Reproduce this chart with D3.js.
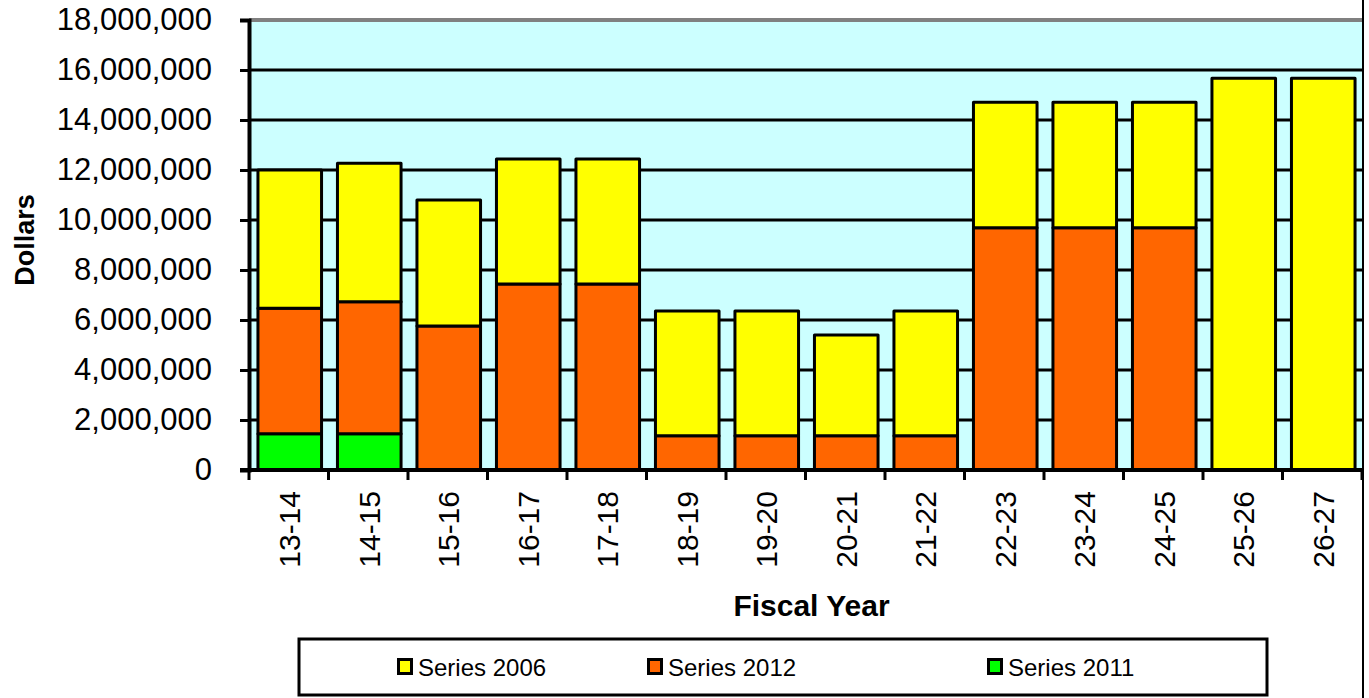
<!DOCTYPE html>
<html>
<head>
<meta charset="utf-8">
<script src="https://cdn.jsdelivr.net/npm/d3@7"></script>
<style>
  body { margin: 0; background: #fff; }
  svg { display: block; font-family: Arial, "Liberation Sans", sans-serif; }
</style>
</head>
<body>
<svg width="1369" height="698"></svg>
<script>
var years = ["13-14", "14-15", "15-16", "16-17", "17-18", "18-19", "19-20",
             "20-21", "21-22", "22-23", "23-24", "24-25", "25-26", "26-27"];
// stacked bottom to top: 2011, 2012, 2006
var series2011 = [1450000, 1450000, 0, 0, 0, 0, 0, 0, 0, 0, 0, 0, 0, 0];
var series2012 = [5020000, 5280000, 5760000, 7440000, 7440000, 1370000, 1370000,
                  1370000, 1370000, 9690000, 9690000, 9690000, 0, 0];
var series2006 = [5530000, 5540000, 5040000, 5000000, 5000000, 4990000, 4990000,
                  4030000, 4990000, 5020000, 5020000, 5020000, 15670000, 15670000];
var yTicks = [0, 2000000, 4000000, 6000000, 8000000, 10000000, 12000000,
              14000000, 16000000, 18000000];

var seriesNames = ["Series 2011", "Series 2012", "Series 2006"];
var colors = {"Series 2011": "#00ff00", "Series 2012": "#ff6600", "Series 2006": "#ffff00"};

var rows = years.map(function(y, i) {
  return {year: y, "Series 2011": series2011[i], "Series 2012": series2012[i], "Series 2006": series2006[i]};
});

var svg = d3.select("svg");
var plotLeft = 249, plotRight = 1362, plotTop = 20, plotBottom = 470;

var x = d3.scaleBand().domain(years).range([plotLeft, plotRight]).paddingInner(0.2).paddingOuter(0.1);
var y = d3.scaleLinear().domain([0, 18000000]).range([plotBottom, plotTop]);

// plot background
svg.append("rect")
  .attr("x", plotLeft).attr("y", plotTop)
  .attr("width", plotRight - plotLeft).attr("height", plotBottom - plotTop)
  .attr("fill", "#ccffff");

// gridlines
svg.append("g")
  .selectAll("line")
  .data(yTicks.filter(function(d) { return d > 0 && d < 18000000; }))
  .enter().append("line")
  .attr("x1", plotLeft).attr("x2", plotRight)
  .attr("y1", function(d) { return y(d); })
  .attr("y2", function(d) { return y(d); })
  .attr("stroke", "#000").attr("stroke-width", 3);

// top border
svg.append("line")
  .attr("x1", plotLeft).attr("x2", plotRight)
  .attr("y1", y(18000000)).attr("y2", y(18000000))
  .attr("stroke", "#808080").attr("stroke-width", 4);

// bars
var stack = d3.stack().keys(seriesNames);
var layers = stack(rows);

svg.append("g")
  .selectAll("g")
  .data(layers)
  .enter().append("g")
  .attr("fill", function(d) { return colors[d.key]; })
  .selectAll("rect")
  .data(function(d) { return d.filter(function(p) { return p[1] - p[0] > 0; }); })
  .enter().append("rect")
  .attr("x", function(d) { return x(d.data.year) + 1; })
  .attr("width", x.bandwidth())
  .attr("y", function(d) { return y(d[1]); })
  .attr("height", function(d) { return y(d[0]) - y(d[1]); })
  .attr("stroke", "#000")
  .attr("stroke-width", 3)
  .attr("stroke-linejoin", "round");

// y axis
var yAxis = d3.axisLeft(y)
  .tickValues(yTicks)
  .tickSize(9)
  .tickPadding(28)
  .tickFormat(d3.format(",.0f"));

var gy = svg.append("g")
  .attr("transform", "translate(" + plotLeft + ",0)")
  .call(yAxis);
gy.select(".domain").attr("stroke", "#000").attr("stroke-width", 4);
gy.selectAll(".tick line").attr("stroke", "#000").attr("stroke-width", 3);
gy.selectAll(".tick text")
  .attr("font-size", 31)
  .attr("font-family", "Arial, 'Liberation Sans', sans-serif")
  .attr("fill", "#000");

// x axis line and boundary ticks
svg.append("line")
  .attr("x1", plotLeft - 9).attr("x2", plotRight)
  .attr("y1", plotBottom).attr("y2", plotBottom)
  .attr("stroke", "#000").attr("stroke-width", 4);

var step = x.step();
var boundaries = d3.range(years.length + 1).map(function(i) {
  return x(years[0]) - x.paddingOuter() * step + i * step;
});
svg.append("g")
  .selectAll("line")
  .data(boundaries)
  .enter().append("line")
  .attr("x1", function(d) { return d; })
  .attr("x2", function(d) { return d; })
  .attr("y1", plotBottom).attr("y2", plotBottom + 10)
  .attr("stroke", "#000").attr("stroke-width", 3);

// x labels
svg.append("g")
  .selectAll("text")
  .data(years)
  .enter().append("text")
  .attr("transform", function(d) {
    return "translate(" + (x(d) + x.bandwidth() / 2 + 1) + "," + (plotBottom + 21) + ") rotate(-90)";
  })
  .attr("text-anchor", "end")
  .attr("dy", "0.35em")
  .attr("font-size", 30)
  .text(function(d) { return d; });

// axis titles
svg.append("text")
  .attr("x", (plotLeft + plotRight) / 2 + 6)
  .attr("y", 616)
  .attr("text-anchor", "middle")
  .attr("font-size", 30)
  .attr("font-weight", "bold")
  .text("Fiscal Year");

svg.append("text")
  .attr("transform", "translate(34," + ((plotTop + plotBottom) / 2 - 5) + ") rotate(-90)")
  .attr("text-anchor", "middle")
  .attr("font-size", 27)
  .attr("font-weight", "bold")
  .text("Dollars");

// right frame line
svg.append("line")
  .attr("x1", 1363).attr("x2", 1363)
  .attr("y1", 0).attr("y2", 698)
  .attr("stroke", "#000").attr("stroke-width", 2);

// legend
var legend = svg.append("g");
legend.append("rect")
  .attr("x", 299).attr("y", 639)
  .attr("width", 968).attr("height", 56)
  .attr("fill", "#fff")
  .attr("stroke", "#000").attr("stroke-width", 3);

var legendItems = [
  {name: "Series 2006", x: 397},
  {name: "Series 2012", x: 647},
  {name: "Series 2011", x: 987}
];
var li = legend.selectAll("g.item")
  .data(legendItems)
  .enter().append("g")
  .attr("class", "item")
  .attr("transform", function(d) { return "translate(" + d.x + ",658)"; });
li.append("rect")
  .attr("x", 1.5).attr("y", 1.5)
  .attr("width", 13).attr("height", 14)
  .attr("fill", function(d) { return colors[d.name]; })
  .attr("stroke", "#000").attr("stroke-width", 3);
li.append("text")
  .attr("x", 21).attr("y", 18)
  .attr("font-size", 24)
  .text(function(d) { return d.name; });
</script>
</body>
</html>
